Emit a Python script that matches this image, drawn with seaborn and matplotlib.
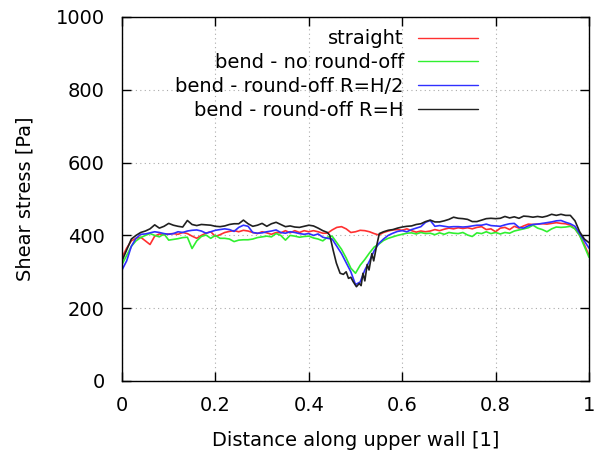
import numpy as np
import pandas as pd
import matplotlib
matplotlib.use("Agg")
import matplotlib.pyplot as plt
import seaborn as sns

x = [round(i * 0.01, 2) for i in range(101)]

straight = [340, 365, 385, 392, 395, 385, 375, 398, 404, 402,
            404, 405, 403, 408, 405, 398, 392, 400, 406, 410,
            397, 402, 408, 411, 413, 410, 414, 412, 408, 405,
            410, 407, 403, 408, 407, 413, 407, 413, 408, 413,
            410, 413, 410, 406, 406, 415, 422, 424, 418, 408,
            410, 414, 413, 410, 405, 401, 408, 412, 415, 416,
            414, 418, 413, 409, 412, 410, 412, 416, 413, 417,
            420, 418, 421, 419, 421, 418, 422, 424, 416, 418,
            410, 420, 422, 416, 425, 420, 426, 431, 430, 431,
            432, 431, 433, 435, 433, 432, 428, 418, 400, 375,
            345]

no_round = [320, 345, 370, 385, 394, 400, 405, 400, 396, 404,
            387, 389, 391, 394, 395, 364, 385, 397, 401, 392,
            400, 392, 392, 390, 383, 387, 388, 388, 390, 394,
            396, 398, 396, 405, 400, 387, 400, 398, 395, 397,
            398, 393, 390, 385, 395, 398, 380, 362, 338, 310,
            296, 318, 334, 352, 368, 376, 386, 392, 396, 400,
            403, 406, 407, 404, 408, 405, 406, 402, 407, 403,
            408, 406, 405, 408, 401, 397, 407, 405, 410, 405,
            408, 404, 408, 406, 412, 415, 418, 421, 428, 420,
            416, 410, 418, 423, 422, 423, 425, 418, 400, 370,
            340]

round_h2 = [305, 330, 370, 392, 403, 404, 407, 410, 408, 405,
            403, 405, 410, 408, 412, 414, 415, 412, 406, 410,
            414, 416, 418, 416, 411, 422, 428, 425, 408, 406,
            407, 410, 412, 415, 408, 406, 410, 408, 405, 403,
            405, 400, 404, 395, 392, 390, 370, 350, 325, 300,
            265, 272, 305, 330, 358, 378, 390, 400, 406, 411,
            413, 410, 416, 420, 424, 436, 441, 425, 427, 425,
            423, 424, 424, 423, 424, 426, 428, 428, 431, 427,
            426, 425, 429, 432, 433, 422, 420, 426, 430, 431,
            433, 435, 437, 440, 441, 436, 432, 425, 405, 385,
            365]

x_black = ([round(i * 0.01, 2) for i in range(45)]
           + [0.445, 0.452, 0.459, 0.467, 0.474, 0.480, 0.485, 0.490, 0.495,
              0.502, 0.508, 0.512, 0.516, 0.520, 0.525, 0.529, 0.535, 0.539,
              0.545, 0.551]
           + [round(i * 0.01, 2) for i in range(56, 101)])

round_h = ([330, 360, 390, 400, 408, 412, 418, 429, 420, 425,
            433, 428, 425, 423, 441, 430, 427, 430, 429, 428,
            425, 424, 426, 430, 432, 432, 442, 432, 425, 428,
            433, 425, 432, 436, 430, 424, 426, 423, 422, 425,
            428, 426, 420, 413, 408]
           + [400, 360, 324, 296, 293, 300, 282, 285, 273,
              259, 268, 262, 296, 275, 320, 305, 350, 330,
              370, 405]
           + [410, 414, 416, 420, 423, 425, 426, 430, 432, 438,
              442, 437, 437, 440, 444, 450, 447, 446, 444, 438,
              438, 442, 446, 447, 446, 447, 452, 448, 451, 447,
              453, 452, 450, 452, 450, 453, 458, 455, 458, 455,
              455, 440, 410, 390, 380])

labels = ["straight", "bend - no round-off", "bend - round-off R=H/2", "bend - round-off R=H"]
colors = ["#ff3030", "#30f030", "#3030ff", "#202020"]

df = pd.concat([
    pd.DataFrame({"x": x, "y": straight, "case": labels[0]}),
    pd.DataFrame({"x": x, "y": no_round, "case": labels[1]}),
    pd.DataFrame({"x": x, "y": round_h2, "case": labels[2]}),
    pd.DataFrame({"x": x_black, "y": round_h, "case": labels[3]}),
], ignore_index=True)

sns.set_style("ticks")
plt.rcParams["font.family"] = ["DejaVu Sans"]
plt.rcParams["text.color"] = "black"
plt.rcParams["axes.labelcolor"] = "black"
plt.rcParams["xtick.color"] = "black"
plt.rcParams["ytick.color"] = "black"

fig = plt.figure(figsize=(6.03, 4.54), dpi=100)
ax = fig.add_axes([122 / 603, 1 - 381 / 454, 467 / 603, 364 / 454])

sns.lineplot(data=df, x="x", y="y", hue="case", hue_order=labels,
             palette=colors, linewidth=1.2, ax=ax, sort=False, estimator=None)

ax.set_xlim(0, 1)
ax.set_ylim(0, 1000)
ax.set_xticks([0, 0.2, 0.4, 0.6, 0.8, 1])
ax.set_xticklabels(["0", "0.2", "0.4", "0.6", "0.8", "1"])
ax.set_yticks([0, 200, 400, 600, 800, 1000])
ax.grid(True, linestyle=(0, (1, 3)), color="#aaaaaa", linewidth=0.8)
ax.tick_params(direction="in", length=6.5, width=1, top=True, right=True,
               labelsize=14, colors="black")
ax.tick_params(axis="x", pad=11)
ax.tick_params(axis="y", pad=12.5)
for s in ax.spines.values():
    s.set_visible(True)
    s.set_color("black")
    s.set_linewidth(1)

ax.set_xlabel("Distance along upper wall [1]", fontsize=14, labelpad=11.5)
ax.set_ylabel("Shear stress [Pa]", fontsize=14, labelpad=15)

leg = ax.legend(loc="upper right", bbox_to_anchor=(0.762, 0.966), frameon=False,
                markerfirst=False, fontsize=14, handlelength=3.09, handletextpad=0.72,
                labelspacing=0.25, borderpad=0, borderaxespad=0)
for line in leg.get_lines():
    line.set_linewidth(1.0)

fig.savefig("out.png", dpi=100)
